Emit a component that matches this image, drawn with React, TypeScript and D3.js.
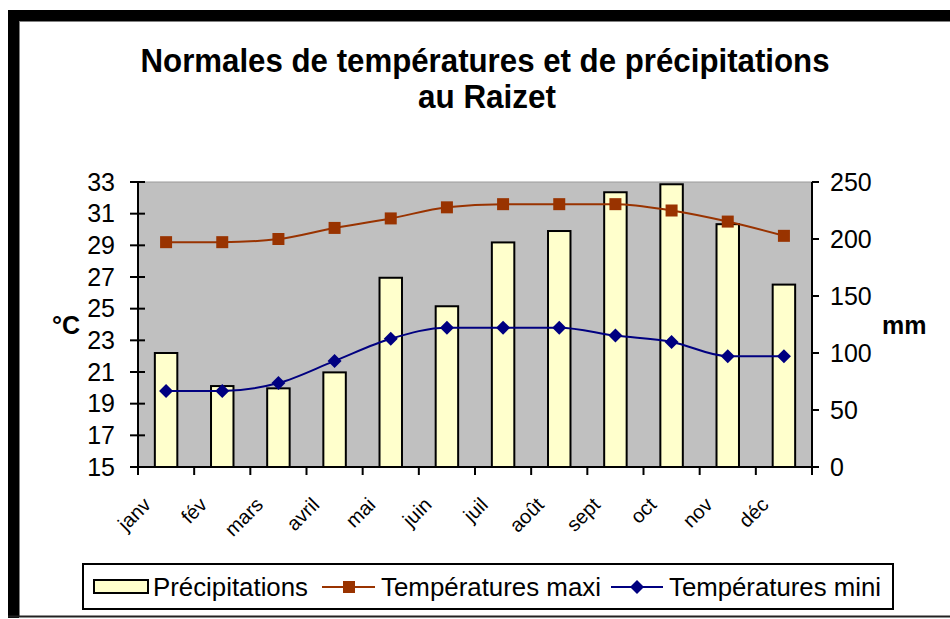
import React from 'react';
import * as d3 from 'd3';

const months = ['janv', 'fév', 'mars', 'avril', 'mai', 'juin', 'juil', 'août', 'sept', 'oct', 'nov', 'déc'];
const precip = [100, 71, 69, 83, 166, 141, 197, 207, 241, 248, 213, 160];
const tmax = [29.2, 29.2, 29.4, 30.1, 30.7, 31.4, 31.6, 31.6, 31.6, 31.2, 30.5, 29.6];
const tmin = [19.8, 19.8, 20.3, 21.7, 23.1, 23.8, 23.8, 23.8, 23.3, 22.9, 22.0, 22.0];
const tempTicks = [15, 17, 19, 21, 23, 25, 27, 29, 31, 33];
const precipTicks = [0, 50, 100, 150, 200, 250];

const FONT = '"Liberation Sans", Arial, sans-serif';
const MAXC = '#993300';
const MINC = '#000080';

export default function App() {
  const L = 138, R = 812, T = 182, B = 467;
  const x = d3.scaleBand<string>().domain(months).range([L, R]).paddingInner(0.6).paddingOuter(0.3);
  const step = x.step();
  const cx = (m: string) => (x(m) as number) + x.bandwidth() / 2;
  const yT = d3.scaleLinear().domain([15, 33]).range([B, T]);
  const yP = d3.scaleLinear().domain([0, 250]).range([B, T]);
  const line = d3.line<number>().x((_, i) => cx(months[i])).curve(d3.curveMonotoneX);
  const maxPath = line.y((d) => yT(d))(tmax) as string;
  const minPath = line.y((d) => yT(d))(tmin) as string;
  const boundaries = d3.range(months.length + 1).map((i) => L + i * step);
  const diamond = (px: number, py: number, r: number) => `M${px},${py - r}L${px + r},${py}L${px},${py + r}L${px - r},${py}Z`;

  return (
    <svg width={950} height={619} style={{ position: 'absolute', left: 0, top: 0, background: '#fff' }} fontFamily={FONT}>
      {/* frame */}
      <rect x={8} y={10} width={942} height={11} fill="#000" />
      <rect x={8} y={10} width={11} height={608} fill="#000" />
      <rect x={19} y={21} width={931} height={1} fill="#808080" />
      <rect x={19} y={21} width={1} height={595} fill="#808080" />
      <rect x={8} y={615.5} width={942} height={2} fill="#222" />

      {/* title */}
      <text x={485} y={72} textAnchor="middle" fontSize={33} fontWeight="bold" textLength={689} lengthAdjust="spacingAndGlyphs">
        Normales de températures et de précipitations
      </text>
      <text x={487} y={108} textAnchor="middle" fontSize={33} fontWeight="bold" textLength={138} lengthAdjust="spacingAndGlyphs">
        au Raizet
      </text>

      {/* plot area */}
      <rect x={L} y={T} width={R - L} height={B - T} fill="#C0C0C0" />
      <line x1={L} x2={R} y1={T} y2={T} stroke="#9a9a9a" strokeWidth={1} />

      {/* bars */}
      {months.map((m, i) => (
        <rect key={m} x={x(m)} y={yP(precip[i])} width={x.bandwidth()} height={B - yP(precip[i])} fill="#FFFFCC" stroke="#000" strokeWidth={2} />
      ))}

      {/* lines */}
      <path d={maxPath} fill="none" stroke={MAXC} strokeWidth={2} />
      <path d={minPath} fill="none" stroke={MINC} strokeWidth={2} />
      {months.map((m, i) => (
        <rect key={'s' + m} x={cx(m) - 6} y={yT(tmax[i]) - 6} width={12} height={12} fill={MAXC} />
      ))}
      {months.map((m, i) => (
        <path key={'d' + m} d={diamond(cx(m), yT(tmin[i]), 7)} fill={MINC} />
      ))}

      {/* axes */}
      <line x1={L} x2={L} y1={T} y2={B} stroke="#000" strokeWidth={2} />
      <line x1={R} x2={R} y1={T} y2={B + 8} stroke="#000" strokeWidth={2} />
      <line x1={L - 8} x2={R} y1={B} y2={B} stroke="#000" strokeWidth={2} />
      {tempTicks.map((t) => (
        <g key={'lt' + t}>
          <line x1={L - 8} x2={L + 7} y1={yT(t)} y2={yT(t)} stroke="#000" strokeWidth={2} />
          <text x={115} y={yT(t)} dy="0.35em" textAnchor="end" fontSize={25} fill="#000">{t}</text>
        </g>
      ))}
      {precipTicks.map((t) => (
        <g key={'rt' + t}>
          <line x1={R} x2={R + 7} y1={yP(t)} y2={yP(t)} stroke="#000" strokeWidth={2} />
          <text x={830} y={yP(t)} dy="0.35em" textAnchor="start" fontSize={25} fill="#000">{t}</text>
        </g>
      ))}
      {boundaries.map((bx, i) => (
        <line key={'bt' + i} x1={bx} x2={bx} y1={B} y2={B + 8} stroke="#000" strokeWidth={2} />
      ))}
      {months.map((m) => (
        <text key={'ml' + m} transform={`translate(${cx(m) - 14},${506}) rotate(-45)`} textAnchor="end" fontSize={20} fill="#000">{m}</text>
      ))}

      <text x={80} y={325} dy="0.35em" textAnchor="end" fontSize={25} fontWeight="bold">°C</text>
      <text x={882} y={325} dy="0.35em" textAnchor="start" fontSize={25} fontWeight="bold">mm</text>

      {/* legend */}
      <rect x={83} y={564} width={810} height={45} fill="#fff" stroke="#000" strokeWidth={2} />
      <rect x={94} y={580} width={54} height={13} fill="#FFFFCC" stroke="#000" strokeWidth={2} />
      <text x={153} y={587} dy="0.35em" fontSize={25} textLength={155} lengthAdjust="spacingAndGlyphs">Précipitations</text>
      <line x1={322} x2={375} y1={587} y2={587} stroke={MAXC} strokeWidth={2} />
      <rect x={343} y={581} width={12} height={12} fill={MAXC} />
      <text x={381} y={587} dy="0.35em" fontSize={25} textLength={220} lengthAdjust="spacingAndGlyphs">Températures maxi</text>
      <line x1={611} x2={663} y1={587} y2={587} stroke={MINC} strokeWidth={2} />
      <path d={diamond(637, 587, 7)} fill={MINC} />
      <text x={669} y={587} dy="0.35em" fontSize={25} textLength={212} lengthAdjust="spacingAndGlyphs">Températures mini</text>
    </svg>
  );
}
